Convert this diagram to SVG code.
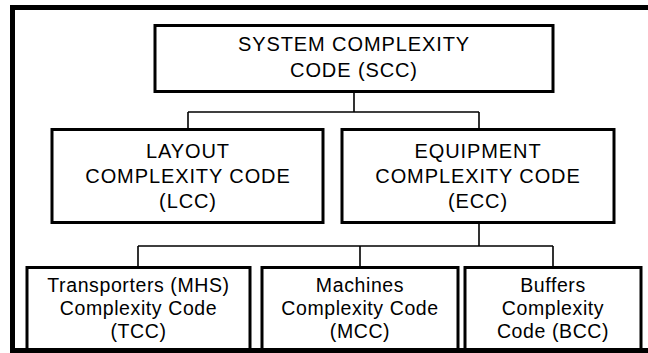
<svg xmlns="http://www.w3.org/2000/svg" width="648" height="353" viewBox="0 0 648 353">
  <style>
    .frame { fill: none; stroke: #000; stroke-width: 5; }
    .box { fill: #fff; stroke: #000; stroke-width: 3; }
    .link { fill: none; stroke: #000; stroke-width: 1.6; }
    text { font-family: "Liberation Sans", Arial, sans-serif; fill: #000; text-anchor: middle; }
    .caps { font-size: 20px; letter-spacing: 0.9px; }
    .mixed { font-size: 19.5px; letter-spacing: 0.6px; }
  </style>
  <rect width="648" height="353" fill="#fff"/>

  <!-- outer frame (open on the right) -->
  <path class="frame" d="M648 7.5 H12.5 V350.5 H648"/>

  <!-- connectors -->
  <g id="connectors">
    <path class="link" d="M354 92 V112 M188 112 H479 M188 112 V129 M479 112 V129"/>
    <path class="link" d="M479 223 V246 M138 246 H553 M138 246 V267 M360 246 V267 M553 246 V267"/>
  </g>

  <g id="scc">
    <rect class="box" x="155" y="25.5" width="398" height="66"/>
    <text class="caps" x="354" y="51">SYSTEM COMPLEXITY</text>
    <text class="caps" x="354" y="77">CODE (SCC)</text>
  </g>

  <g id="lcc">
    <rect class="box" x="52" y="129.5" width="271" height="93"/>
    <text class="caps" x="188" y="158">LAYOUT</text>
    <text class="caps" x="188" y="183">COMPLEXITY CODE</text>
    <text class="caps" x="188" y="208">(LCC)</text>
  </g>

  <g id="ecc">
    <rect class="box" x="342" y="129.5" width="272" height="93"/>
    <text class="caps" x="478" y="158">EQUIPMENT</text>
    <text class="caps" x="478" y="183">COMPLEXITY CODE</text>
    <text class="caps" x="478" y="208">(ECC)</text>
  </g>

  <g id="tcc">
    <rect class="box" x="27" y="267.5" width="223" height="82"/>
    <text class="mixed" x="138.5" y="292">Transporters (MHS)</text>
    <text class="mixed" x="138.5" y="315">Complexity Code</text>
    <text class="mixed" x="138.5" y="338">(TCC)</text>
  </g>

  <g id="mcc">
    <rect class="box" x="262" y="267.5" width="196" height="82"/>
    <text class="mixed" x="360" y="292">Machines</text>
    <text class="mixed" x="360" y="315">Complexity Code</text>
    <text class="mixed" x="360" y="338">(MCC)</text>
  </g>

  <g id="bcc">
    <rect class="box" x="465" y="267.5" width="176" height="82"/>
    <text class="mixed" x="553" y="292">Buffers</text>
    <text class="mixed" x="553" y="315">Complexity</text>
    <text class="mixed" x="553" y="338">Code (BCC)</text>
  </g>
</svg>
